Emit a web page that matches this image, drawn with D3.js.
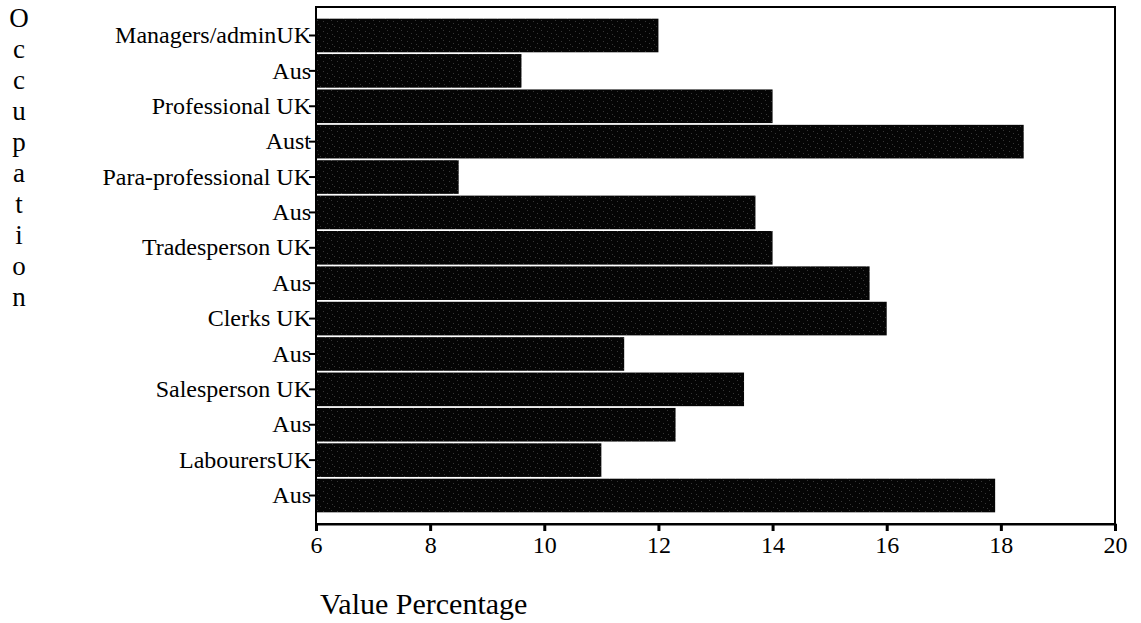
<!DOCTYPE html>
<html>
<head>
<meta charset="utf-8">
<script src="https://cdn.jsdelivr.net/npm/d3@7"></script>
<style>
  html, body { margin: 0; padding: 0; background: #fff; }
  svg { display: block; font-family: "Liberation Serif", "Times New Roman", serif; }
</style>
</head>
<body>
<svg id="chart" width="1141" height="623"></svg>
<script>
// Occupation categories (UK / Australia pairs), top to bottom
const categories = [
  "Managers/adminUK", "Aus",
  "Professional UK", "Aust",
  "Para-professional UK", "Aus",
  "Tradesperson UK", "Aus",
  "Clerks UK", "Aus",
  "Salesperson UK", "Aus",
  "LabourersUK", "Aus"
];
// Value percentage for each category
const values = [12, 9.6, 14, 18.4, 8.5, 13.7, 14, 15.7, 16, 11.4, 13.5, 12.3, 11, 17.9];
// X axis tick values
const xTicks = [6, 8, 10, 12, 14, 16, 18, 20];
const yTitle = "Occupation";
const xTitle = "Value Percentage";

const svg = d3.select("#chart");
const plot = { left: 316, right: 1115, top: 7, bottom: 524 };

const x = d3.scaleLinear().domain([6, 20]).range([plot.left, plot.right]);
const y = d3.scaleBand()
  .domain(d3.range(categories.length))
  .range([plot.top, plot.bottom])
  .paddingInner(0.05)
  .paddingOuter(0.33);

// speckled dark fill for the bars
const defs = svg.append("defs");
const pat = defs.append("pattern")
  .attr("id", "speckle")
  .attr("patternUnits", "userSpaceOnUse")
  .attr("width", 14).attr("height", 10);
pat.append("rect").attr("width", 14).attr("height", 10).attr("fill", "#050505");
const dots = [[1,1],[5,3],[9,0],[12,6],[3,7],[7,8],[10,4]];
pat.selectAll("rect.d").data(dots).join("rect")
  .attr("class", "d")
  .attr("x", d => d[0]).attr("y", d => d[1])
  .attr("width", 1).attr("height", 1)
  .attr("fill", "#363636");

// y axis with category labels
const yAxis = svg.append("g")
  .attr("transform", `translate(${plot.left},0)`)
  .call(d3.axisLeft(y).tickSize(7).tickPadding(-2).tickFormat(i => categories[i]));
yAxis.select(".domain").remove();
yAxis.selectAll(".tick line").attr("stroke", "#000").attr("stroke-width", 2);
yAxis.selectAll(".tick text")
  .attr("fill", "#000")
  .style("font-size", "24px")
  .style("font-family", "'Liberation Serif', serif");

// bars
svg.append("g").selectAll("rect").data(values).join("rect")
  .attr("x", x(6))
  .attr("y", (d, i) => y(i))
  .attr("width", d => x(d) - x(6))
  .attr("height", y.bandwidth())
  .attr("fill", "url(#speckle)");

// frame
svg.append("rect")
  .attr("x", plot.left).attr("y", plot.top)
  .attr("width", plot.right - plot.left)
  .attr("height", plot.bottom - plot.top)
  .attr("fill", "none").attr("stroke", "#000").attr("stroke-width", 2);

// x axis
const xAxis = svg.append("g")
  .attr("transform", `translate(0,${plot.bottom})`)
  .call(d3.axisBottom(x).tickValues(xTicks).tickSize(7).tickPadding(5));
xAxis.select(".domain").attr("stroke", "#000").attr("stroke-width", 2);
xAxis.selectAll(".tick line").attr("stroke", "#000").attr("stroke-width", 3);
xAxis.selectAll(".tick text")
  .attr("fill", "#000")
  .style("font-size", "24px")
  .style("font-family", "'Liberation Serif', serif");

// vertical stacked y title
svg.append("g").selectAll("text").data(yTitle.split("")).join("text")
  .attr("x", 19)
  .attr("y", (d, i) => 18 + i * 31)
  .attr("text-anchor", "middle")
  .attr("dominant-baseline", "central")
  .style("font-size", "27px")
  .text(d => d);

// x title
svg.append("text")
  .attr("x", 320).attr("y", 614)
  .style("font-size", "30px")
  .text(xTitle);
</script>
</body>
</html>
